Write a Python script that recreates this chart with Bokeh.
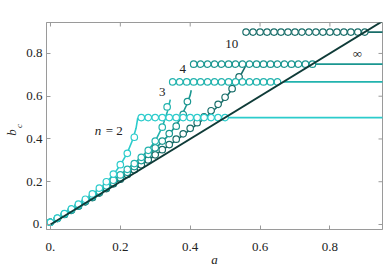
from bokeh.plotting import figure
from bokeh.models import Range1d, FixedTicker, LinearAxis, Label
from bokeh.embed import file_html
from bokeh.resources import INLINE

# ---------------- data ----------------
# analytic curves b_c(a)
n2_curve_a = [0, 0.05, 0.10, 0.15, 0.18, 0.20, 0.22, 0.235, 0.245, 0.25]
n2_curve_b = [0, 0.053, 0.112, 0.18, 0.232, 0.278, 0.335, 0.395, 0.45, 0.50]
n3_curve_a = [0, 0.05, 0.10, 0.15, 0.20, 0.25, 0.28, 0.30, 0.32, 0.335, 0.343]
n3_curve_b = [0, 0.052, 0.108, 0.168, 0.232, 0.30, 0.347, 0.39, 0.455, 0.53, 0.584]
n4_curve_a = [0, 0.05, 0.10, 0.15, 0.20, 0.25, 0.30, 0.34, 0.37, 0.39, 0.40, 0.403]
n4_curve_b = [0, 0.051, 0.105, 0.162, 0.221, 0.285, 0.355, 0.42, 0.49, 0.56, 0.605, 0.628]
n10_curve_a = [0, 0.10, 0.20, 0.30, 0.36, 0.40, 0.44, 0.48, 0.50, 0.52, 0.54, 0.55, 0.56]
n10_curve_b = [0, 0.104, 0.212, 0.324, 0.394, 0.444, 0.495, 0.553, 0.59, 0.632, 0.685, 0.715, 0.745]
inf_a = [0, 1.0]
inf_b = [0, 1.0]

# plateau b_c = 1 - 1/n, starting on the diagonal
plateau_b = [0.5, 0.6667, 0.75, 0.9]
plateau_end = 1.0

# numerical points (circles)
n2_pts_a = [0, 0.02, 0.04, 0.06, 0.08, 0.10, 0.12, 0.14, 0.16, 0.18, 0.20, 0.22, 0.24,
            0.26, 0.28, 0.30, 0.32, 0.34, 0.36, 0.38, 0.40, 0.42, 0.44, 0.46, 0.48, 0.50]
n2_pts_b = [0.010, 0.030, 0.051, 0.073, 0.095, 0.118, 0.143, 0.170, 0.200, 0.236, 0.280, 0.333, 0.408,
            0.5, 0.5, 0.5, 0.5, 0.5, 0.5, 0.5, 0.5, 0.5, 0.5, 0.5, 0.5, 0.5]
n3_pts_a = [0, 0.02, 0.04, 0.06, 0.08, 0.10, 0.12, 0.14, 0.16, 0.18, 0.20, 0.22, 0.24, 0.26,
            0.28, 0.30, 0.32, 0.334,
            0.35, 0.37, 0.39, 0.41, 0.43, 0.45, 0.47, 0.49, 0.51, 0.53, 0.55, 0.57, 0.59,
            0.61, 0.63, 0.65]
n3_pts_b = [0.010, 0.029, 0.049, 0.069, 0.090, 0.111, 0.133, 0.156, 0.181, 0.207, 0.232, 0.258,
            0.285, 0.314, 0.347, 0.39, 0.455, 0.55,
            0.6667, 0.6667, 0.6667, 0.6667, 0.6667, 0.6667, 0.6667, 0.6667, 0.6667, 0.6667,
            0.6667, 0.6667, 0.6667, 0.6667, 0.6667, 0.6667]
n4_pts_a = [0, 0.02, 0.04, 0.06, 0.08, 0.10, 0.12, 0.14, 0.16, 0.18, 0.20, 0.22, 0.24, 0.26,
            0.28, 0.30, 0.32, 0.34, 0.36, 0.38, 0.392,
            0.41, 0.43, 0.45, 0.47, 0.49, 0.51, 0.53, 0.55, 0.57, 0.59, 0.61, 0.63, 0.65,
            0.67, 0.69, 0.71, 0.73, 0.75]
n4_pts_b = [0.010, 0.028, 0.048, 0.067, 0.087, 0.107, 0.128, 0.150, 0.172, 0.195, 0.219, 0.244,
            0.271, 0.299, 0.328, 0.358, 0.39, 0.425, 0.46, 0.515, 0.575,
            0.75, 0.75, 0.75, 0.75, 0.75, 0.75, 0.75, 0.75, 0.75, 0.75, 0.75, 0.75, 0.75,
            0.75, 0.75, 0.75, 0.75, 0.75]
n10_pts_a = [0, 0.02, 0.04, 0.06, 0.08, 0.10, 0.12, 0.14, 0.16, 0.18, 0.20, 0.22, 0.24, 0.26,
             0.28, 0.30, 0.32, 0.34, 0.36, 0.38, 0.40, 0.42, 0.44, 0.46, 0.48, 0.50, 0.52, 0.54,
             0.56, 0.58, 0.60, 0.62, 0.64, 0.66, 0.68, 0.70, 0.72, 0.74, 0.76, 0.78, 0.80,
             0.82, 0.84, 0.86, 0.88, 0.90]
n10_pts_b = [0.010, 0.028, 0.047, 0.066, 0.086, 0.106, 0.126, 0.147, 0.168, 0.19, 0.212, 0.234,
             0.256, 0.279, 0.302, 0.326, 0.35, 0.374, 0.399, 0.424, 0.45, 0.476, 0.503, 0.532,
             0.562, 0.595, 0.635, 0.69,
             0.9, 0.9, 0.9, 0.9, 0.9, 0.9, 0.9, 0.9, 0.9, 0.9, 0.9, 0.9, 0.9,
             0.9, 0.9, 0.9, 0.9, 0.9]

x_ticks = [0, 0.2, 0.4, 0.6, 0.8]
y_ticks = [0, 0.2, 0.4, 0.6, 0.8]
tick_overrides = {0: "0."}

colors = ["#2ccccc", "#22b3ae", "#1a9690", "#186d69", "#0f3b38"]

# annotations (text, a, b)
ann_text = ["3", "4", "10", "\u221e"]
ann_a = [0.32, 0.379, 0.519, 0.879]
ann_b = [0.62, 0.729, 0.846, 0.802]

FONT = "Liberation Serif"
AXIS_COL = "#9a9a9a"
TXT = "#222222"
X0, X1 = -0.0114, 0.9506
Y0, Y1 = -0.0234, 0.9447

p = figure(width=390, height=279, output_backend="svg", toolbar_location=None,
           x_range=Range1d(X0, X1), y_range=Range1d(Y0, Y1),
           min_border_left=45, min_border_right=8, min_border_top=22, min_border_bottom=50,
           x_axis_type=None, y_axis_type=None)
p.grid.visible = False
p.outline_line_color = AXIS_COL
p.background_fill_color = "white"
p.border_fill_color = "white"


def make_axis(ticks):
    ax = LinearAxis(ticker=FixedTicker(ticks=ticks))
    ax.axis_line_color = AXIS_COL
    ax.major_tick_line_color = AXIS_COL
    ax.minor_tick_line_color = None
    ax.major_tick_in = 4
    ax.major_tick_out = 0
    ax.major_label_overrides = tick_overrides
    ax.major_label_text_font = FONT
    ax.major_label_text_font_size = "13px"
    ax.major_label_text_color = TXT
    ax.axis_label_text_font = FONT
    ax.axis_label_text_font_style = "italic"
    ax.axis_label_text_font_size = "13px"
    ax.axis_label_text_color = TXT
    return ax


bx = make_axis(x_ticks)
bx.major_label_standoff = 13
bx.axis_label = "a"
bx.axis_label_standoff = -2
p.add_layout(bx, "below")

# inner left axis: ticks, tick labels and the subscript "c" of the title
ly = make_axis(y_ticks)
ly.major_label_standoff = 4
ly.axis_label = "c"
ly.axis_label_text_font_size = "9px"
ly.axis_label_standoff = -1
p.add_layout(ly, "left")

# outer left axis: only carries the "b" of the title
ly2 = LinearAxis(ticker=FixedTicker(ticks=[]))
ly2.axis_line_color = None
ly2.major_tick_line_color = None
ly2.minor_tick_line_color = None
ly2.major_tick_out = 0
ly2.major_tick_in = 0
ly2.major_label_standoff = 0
ly2.axis_label = "b\u2002\u2002"
ly2.axis_label_text_font = FONT
ly2.axis_label_text_font_style = "italic"
ly2.axis_label_text_font_size = "13px"
ly2.axis_label_text_color = TXT
ly2.axis_label_standoff = -7
p.add_layout(ly2, "left")

# inward ticks on the top and right edges of the frame (clipped half-dashes)
p.scatter(x_ticks, [Y1] * len(x_ticks), marker="dash", angle=1.5708, size=8,
          line_color=AXIS_COL, line_width=1)
p.scatter([X1] * len(y_ticks), y_ticks, marker="dash", size=8,
          line_color=AXIS_COL, line_width=1)

# plateau lines
for b, c in zip(plateau_b, colors[:4]):
    p.line([b, plateau_end], [b, b], line_color=c, line_width=1.8)

# analytic curves
curves = [(n2_curve_a, n2_curve_b), (n3_curve_a, n3_curve_b),
          (n4_curve_a, n4_curve_b), (n10_curve_a, n10_curve_b)]
for (ca, cb), c in zip(curves, colors[:4]):
    p.line(ca, cb, line_color=c, line_width=1.6)

# numerical circles
pts = [(n10_pts_a, n10_pts_b, colors[3]), (n4_pts_a, n4_pts_b, colors[2]),
       (n3_pts_a, n3_pts_b, colors[1]), (n2_pts_a, n2_pts_b, colors[0])]
for pa, pb, c in pts:
    p.scatter(pa, pb, marker="circle", size=6.5, line_color=c, line_width=1.2,
              fill_color="white")

# n -> infinity diagonal
p.line(inf_a, inf_b, line_color=colors[4], line_width=2)

# curve labels
p.add_layout(Label(x=0.136, y=0.44, text="n", text_font=FONT, text_font_style="italic",
                   text_font_size="13px", text_align="center", text_baseline="middle",
                   text_color=TXT))
p.add_layout(Label(x=0.158, y=0.44, text="= 2", text_font=FONT,
                   text_font_size="13px", text_align="left", text_baseline="middle",
                   text_color=TXT))
for t, a, b in zip(ann_text, ann_a, ann_b):
    p.add_layout(Label(x=a, y=b, text=t, text_font=FONT, text_font_size="13px",
                       text_align="center", text_baseline="middle", text_color=TXT))

open("out.html", "w").write(file_html(p, INLINE))
